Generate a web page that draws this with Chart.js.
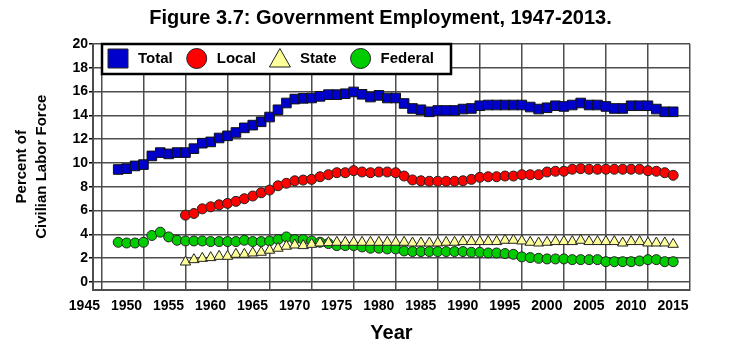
<!DOCTYPE html>
<html>
<head>
<meta charset="utf-8">
<script src="https://cdn.jsdelivr.net/npm/chart.js@4.4.1/dist/chart.umd.min.js"></script>
<style>
  html, body { margin: 0; padding: 0; background: #fff; }
</style>
</head>
<body>
<canvas id="chart" width="729" height="351"></canvas>
<script>
const chartTitle = 'Figure 3.7: Government Employment, 1947-2013.'

const years = [1947, 1948, 1949, 1950, 1951, 1952, 1953, 1954, 1955, 1956,
  1957, 1958, 1959, 1960, 1961, 1962, 1963, 1964, 1965, 1966,
  1967, 1968, 1969, 1970, 1971, 1972, 1973, 1974, 1975, 1976,
  1977, 1978, 1979, 1980, 1981, 1982, 1983, 1984, 1985, 1986,
  1987, 1988, 1989, 1990, 1991, 1992, 1993, 1994, 1995, 1996,
  1997, 1998, 1999, 2000, 2001, 2002, 2003, 2004, 2005, 2006,
  2007, 2008, 2009, 2010, 2011, 2012, 2013]

// state and local start in 1955
const stateLocalYears = years.slice(8)

const total = [9.45, 9.52, 9.75, 9.86, 10.59, 10.87, 10.76, 10.87, 10.87, 11.2,
  11.66, 11.77, 12.1, 12.28, 12.56, 12.95, 13.18, 13.46, 13.86, 14.47,
  15.04, 15.37, 15.43, 15.46, 15.6, 15.74, 15.74, 15.82, 15.97, 15.77,
  15.54, 15.68, 15.46, 15.46, 15.0, 14.58, 14.47, 14.3, 14.41, 14.41,
  14.41, 14.53, 14.58, 14.81, 14.87, 14.87, 14.87, 14.87, 14.87, 14.7,
  14.53, 14.64, 14.81, 14.75, 14.87, 15.04, 14.87, 14.87, 14.75, 14.58,
  14.58, 14.81, 14.81, 14.81, 14.53, 14.3, 14.3]

const local = [5.61, 5.75, 6.14, 6.31, 6.48, 6.6, 6.77, 6.99, 7.22, 7.49,
  7.72, 8.08, 8.29, 8.5, 8.56, 8.62, 8.84, 9.01, 9.18, 9.18,
  9.35, 9.24, 9.18, 9.24, 9.24, 9.18, 8.9, 8.57, 8.5, 8.46,
  8.46, 8.46, 8.46, 8.5, 8.62, 8.79, 8.84, 8.84, 8.9, 8.9,
  9.01, 9.01, 9.01, 9.24, 9.3, 9.3, 9.47, 9.52, 9.47, 9.47,
  9.47, 9.47, 9.47, 9.47, 9.47, 9.35, 9.3, 9.18, 8.96]

const state = [1.67, 1.87, 1.98, 2.04, 2.15, 2.15, 2.32, 2.32, 2.43, 2.49,
  2.66, 2.83, 3.0, 3.1, 3.05, 3.16, 3.27, 3.3, 3.33, 3.33,
  3.33, 3.33, 3.33, 3.33, 3.33, 3.33, 3.33, 3.27, 3.27, 3.27,
  3.27, 3.33, 3.33, 3.39, 3.39, 3.39, 3.39, 3.39, 3.5, 3.5,
  3.44, 3.33, 3.27, 3.33, 3.39, 3.39, 3.39, 3.5, 3.39, 3.39,
  3.39, 3.39, 3.27, 3.39, 3.39, 3.27, 3.27, 3.27, 3.16]

const federal = [3.33, 3.27, 3.27, 3.33, 3.9, 4.18, 3.78, 3.5, 3.44, 3.44,
  3.44, 3.39, 3.39, 3.39, 3.39, 3.5, 3.39, 3.39, 3.44, 3.56,
  3.78, 3.56, 3.56, 3.44, 3.33, 3.22, 3.05, 3.05, 3.05, 2.94,
  2.83, 2.83, 2.77, 2.77, 2.6, 2.55, 2.55, 2.55, 2.55, 2.55,
  2.55, 2.55, 2.49, 2.49, 2.43, 2.43, 2.38, 2.32, 2.1, 2.04,
  1.98, 1.93, 1.93, 1.93, 1.87, 1.87, 1.87, 1.87, 1.7, 1.7,
  1.7, 1.7, 1.76, 1.87, 1.87, 1.7, 1.7]

const xTicks = [1945, 1950, 1955, 1960, 1965, 1970, 1975, 1980, 1985, 1990, 1995, 2000, 2005, 2010, 2015]
const yTicks = [0, 2, 4, 6, 8, 10, 12, 14, 16, 18, 20]

const FONT = '"Liberation Sans", Arial, sans-serif'
Chart.defaults.font.family = FONT
const GRID = '#4d4d4d'

let zip = (xs, ys) => xs.map((x, i) => ({x: x, y: ys[i]}))

// title above the plot and the boxed legend that sits on top of the grid
const decor = {
  id: 'decor',
  afterDraw(chart) {
    const ctx = chart.ctx
    ctx.save()
    ctx.fillStyle = '#000'
    ctx.font = 'bold 20px ' + FONT
    ctx.textAlign = 'center'
    ctx.textBaseline = 'middle'
    ctx.fillText(chartTitle, 380.5, 18)

    // legend box
    const bx = 102, by = 44, bw = 349, bh = 30
    ctx.fillStyle = '#fff'
    ctx.fillRect(bx, by, bw, bh)
    ctx.lineWidth = 2.5
    ctx.strokeStyle = '#000'
    ctx.strokeRect(bx, by, bw, bh)

    ctx.font = 'bold 15px ' + FONT
    ctx.textAlign = 'left'
    let cur = 108
    const cy = 58.5
    chart.data.datasets.forEach(ds => {
      const mx = cur + 10
      ctx.fillStyle = ds.backgroundColor
      ctx.strokeStyle = '#222'
      ctx.lineWidth = 1
      ctx.beginPath()
      if (ds.pointStyle === 'rect') {
        ctx.rect(mx - 10, cy - 9.5, 20, 19)
      } else if (ds.pointStyle === 'triangle') {
        ctx.moveTo(mx, cy - 10)
        ctx.lineTo(mx + 10.5, cy + 8.5)
        ctx.lineTo(mx - 10.5, cy + 8.5)
        ctx.closePath()
      } else {
        ctx.arc(mx, cy, 10, 0, Math.PI * 2)
      }
      ctx.fill()
      ctx.stroke()
      ctx.fillStyle = '#000'
      ctx.fillText(ds.label, cur + 30, cy)
      cur += 30 + ctx.measureText(ds.label).width + 14
    })
    ctx.restore()
  }
}

const ctx = document.getElementById('chart')
const chart = new Chart(ctx, {
  type: 'scatter',
  data: {
    datasets: [
      { label: 'Total', data: zip(years, total), pointStyle: 'rect', pointRadius: 6.8,
        backgroundColor: '#0000cc', borderColor: '#111', borderWidth: 1 },
      { label: 'Local', data: zip(stateLocalYears, local), pointStyle: 'circle', pointRadius: 5,
        backgroundColor: '#ff0000', borderColor: '#222', borderWidth: 1 },
      { label: 'State', data: zip(stateLocalYears, state), pointStyle: 'triangle', pointRadius: 6,
        backgroundColor: '#ffff99', borderColor: '#222', borderWidth: 1 },
      { label: 'Federal', data: zip(years, federal), pointStyle: 'circle', pointRadius: 5,
        backgroundColor: '#00cc00', borderColor: '#222', borderWidth: 1 }
    ]
  },
  options: {
    responsive: false,
    animation: false,
    layout: { padding: { top: 44, right: 39, bottom: 0, left: 0 } },
    plugins: {
      legend: { display: false },
      title: { display: false },
      tooltip: { enabled: false }
    },
    scales: {
      x: {
        type: 'linear',
        min: 1944,
        max: 2015,
        afterBuildTicks: s => { s.ticks = xTicks.map(v => ({ value: v })) },
        afterFit: s => { s.height = 61.5 },
        grid: { color: GRID, lineWidth: 1.5, drawTicks: false },
        border: { color: GRID, width: 2 },
        ticks: {
          color: '#000', font: { size: 14, weight: 'bold' }, padding: 8,
          labelOffset: -17, autoSkip: false, maxRotation: 0,
          callback: v => String(v)
        },
        title: {
          display: true, text: 'Year', color: '#000',
          font: { size: 20, weight: 'bold' }, padding: { top: 0, bottom: 6 }
        }
      },
      y: {
        min: -0.64,
        max: 20,
        afterBuildTicks: s => { s.ticks = yTicks.map(v => ({ value: v })) },
        afterFit: s => { s.width = 93 },
        grid: { color: GRID, lineWidth: 1.5, tickLength: 4, tickColor: '#000' },
        border: { color: GRID, width: 2 },
        ticks: { color: '#000', font: { size: 14, weight: 'bold' }, padding: 1 },
        title: {
          display: true, text: ['Percent of', 'Civilian Labor Force'], color: '#000',
          font: { size: 15, weight: 'bold', lineHeight: 1.33 }, padding: { top: 12, bottom: 0 }
        }
      }
    }
  },
  plugins: [decor]
})
</script>
</body>
</html>
